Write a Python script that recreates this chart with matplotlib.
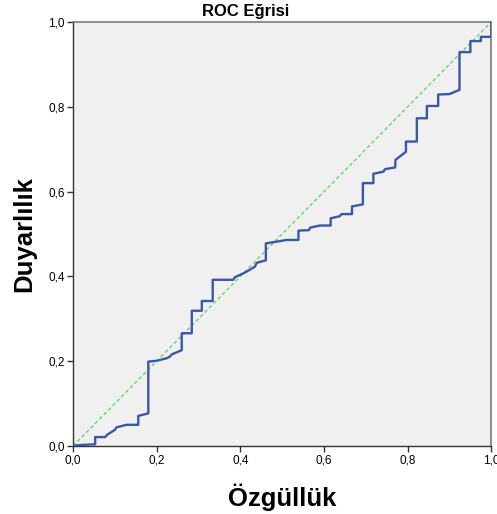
import matplotlib
matplotlib.use("Agg")
import matplotlib.pyplot as plt
from matplotlib.ticker import FuncFormatter, MultipleLocator

# ROC step curve (1 - specificity, sensitivity)
fpr = [0, 0.012, 0.053, 0.053, 0.077, 0.081, 0.100, 0.104, 0.128, 0.156,
       0.156, 0.180, 0.180, 0.200, 0.224, 0.232, 0.236, 0.260, 0.260, 0.284,
       0.284, 0.308, 0.308, 0.334, 0.334, 0.383, 0.387, 0.411, 0.435, 0.439,
       0.461, 0.461, 0.487, 0.511, 0.539, 0.539, 0.564, 0.567, 0.590, 0.616,
       0.616, 0.638, 0.642, 0.667, 0.667, 0.693, 0.693, 0.718, 0.718, 0.742,
       0.746, 0.770, 0.771, 0.796, 0.796, 0.822, 0.822, 0.846, 0.846, 0.873,
       0.873, 0.900, 0.924, 0.924, 0.950, 0.950, 0.975, 0.975, 1.0, 1.0]
tpr = [0, 0.002, 0.004, 0.021, 0.021, 0.026, 0.038, 0.044, 0.050, 0.050,
       0.071, 0.077, 0.199, 0.201, 0.207, 0.211, 0.216, 0.226, 0.266, 0.266,
       0.319, 0.319, 0.342, 0.342, 0.392, 0.392, 0.398, 0.409, 0.423, 0.432,
       0.438, 0.478, 0.482, 0.486, 0.486, 0.508, 0.509, 0.515, 0.520, 0.520,
       0.537, 0.542, 0.547, 0.547, 0.565, 0.570, 0.620, 0.620, 0.642, 0.647,
       0.653, 0.657, 0.675, 0.694, 0.718, 0.718, 0.773, 0.773, 0.802, 0.802,
       0.829, 0.830, 0.840, 0.929, 0.929, 0.955, 0.955, 0.965, 0.965, 1.0]
ref_line = [0, 1]

title = "ROC Eğrisi"
xlabel = "Özgüllük"
ylabel = "Duyarlılık"

plt.rcParams["font.family"] = ["Liberation Sans", "DejaVu Sans"]

fig = plt.figure(figsize=(4.97, 5.14), dpi=100)
ax = fig.add_axes([73 / 497, 68 / 514, 418.3 / 497, 424 / 514])
ax.set_facecolor("#f0f0f0")

ax.plot(ref_line, ref_line, color="#5fcf5f", linewidth=0.9,
        linestyle=(0, (3, 2)), zorder=2)
ax.plot(fpr, tpr, color="#3c57a8", linewidth=1.7, zorder=3)

ax.set_xlim(0, 1)
ax.set_ylim(0, 1)
ax.xaxis.set_major_locator(MultipleLocator(0.2))
ax.yaxis.set_major_locator(MultipleLocator(0.2))
comma = FuncFormatter(lambda v, _: f"{v:.1f}".replace(".", ","))
ax.xaxis.set_major_formatter(comma)
ax.yaxis.set_major_formatter(comma)
ax.tick_params(direction="out", length=4, width=1, color="#333333",
               labelsize=8.5, pad=2)

for side in ("left", "bottom"):
    ax.spines[side].set_color("#333333")
    ax.spines[side].set_linewidth(1.0)
for side in ("top", "right"):
    ax.spines[side].set_color("#7a7a7a")
    ax.spines[side].set_linewidth(1.2)

fig.text(0.495, 1 - 16 / 514, title, ha="center", va="baseline",
         fontsize=12, fontweight="bold")
fig.text(282 / 497, 1 - 497 / 514, xlabel, ha="center", va="center",
         fontsize=18.5, fontweight="bold")
fig.text(24 / 497, 1 - 234 / 514, ylabel, ha="center", va="center",
         rotation=90, fontsize=18.5, fontweight="bold")

fig.savefig("out.png", dpi=100)
